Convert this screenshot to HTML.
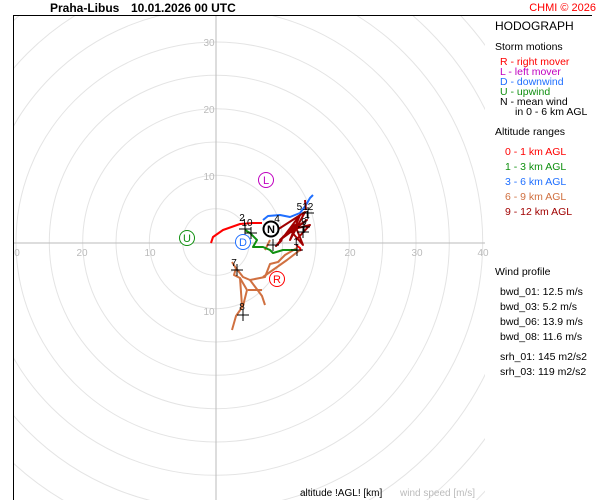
<!DOCTYPE html>
<html><head><style>
html,body{margin:0;background:#fff;overflow:hidden;width:600px;height:500px;}
svg{display:block;font-family:"Liberation Sans",sans-serif;}
</style></head><body>
<svg width="600" height="500" viewBox="0 0 600 500">
<defs><clipPath id="c"><rect x="14" y="16" width="471" height="484"/></clipPath></defs>
<g clip-path="url(#c)" fill="none" stroke="#e4e4e4" stroke-width="1">
<circle cx="216" cy="242" r="33.3"/><circle cx="216" cy="242" r="66.7"/><circle cx="216" cy="242" r="100"/>
<circle cx="216" cy="242" r="133.3"/><circle cx="216" cy="242" r="166.7"/><circle cx="216" cy="242" r="200"/>
<circle cx="216" cy="242" r="233.3"/><circle cx="216" cy="242" r="266.7"/><circle cx="216" cy="242" r="300"/>
<circle cx="216" cy="242" r="333.3"/><circle cx="216" cy="242" r="366.7"/>
</g>
<line x1="216" y1="16" x2="216" y2="500" stroke="#bbb"/>
<line x1="14" y1="243" x2="485" y2="243" stroke="#bbb"/>
<line x1="13.5" y1="15" x2="13.5" y2="500" stroke="#000"/>
<line x1="13" y1="15.5" x2="592" y2="15.5" stroke="#000"/>
<g font-size="10" fill="#bbb" text-anchor="middle">
<text x="209" y="46">30</text><text x="209" y="113">20</text><text x="209" y="180">10</text><text x="209" y="315">10</text>
<text x="17" y="256">0</text><text x="82" y="256">20</text><text x="150" y="256">10</text>
<text x="350" y="256">20</text><text x="417" y="256">30</text><text x="483" y="256">40</text>
</g>
<text x="50" y="12" font-size="12" font-weight="bold">Praha-Libus</text>
<text x="131" y="12" font-size="12" font-weight="bold">10.01.2026 00 UTC</text>
<text x="596" y="11" font-size="11" fill="#f00" text-anchor="end">CHMI © 2026</text>
<g font-size="10.5">
<text x="495" y="30" font-size="12">HODOGRAPH</text>
<text x="495" y="50">Storm motions</text>
<text x="500" y="65" fill="#f00">R - right mover</text>
<text x="500" y="75" fill="#c000c0">L - left mover</text>
<text x="500" y="85" fill="#1f6fff">D - downwind</text>
<text x="500" y="95" fill="#109010">U - upwind</text>
<text x="500" y="105">N - mean wind</text>
<text x="515" y="115">in 0 - 6 km AGL</text>
<text x="495" y="135">Altitude ranges</text>
<text x="505" y="155" fill="#f00">0 - 1 km AGL</text>
<text x="505" y="170" fill="#109010">1 - 3 km AGL</text>
<text x="505" y="185" fill="#1f6fff">3 - 6 km AGL</text>
<text x="505" y="200" fill="#d07040">6 - 9 km AGL</text>
<text x="505" y="215" fill="#a00000">9 - 12 km AGL</text>
<text x="495" y="275">Wind profile</text>
<text x="500" y="295">bwd_01: 12.5 m/s</text>
<text x="500" y="310">bwd_03: 5.2 m/s</text>
<text x="500" y="325">bwd_06: 13.9 m/s</text>
<text x="500" y="340">bwd_08: 11.6 m/s</text>
<text x="500" y="360">srh_01: 145 m2/s2</text>
<text x="500" y="375">srh_03: 119 m2/s2</text>
</g>
<text x="300" y="496" font-size="10">altitude !AGL! [km]</text>
<text x="400" y="496" font-size="10" fill="#bbb">wind speed [m/s]</text>
<g fill="none" stroke-width="2" stroke-linejoin="round">
<polyline stroke="#d07040" points="297,248 285,255 278,262 270,264 265,277 250,280 243,277 236,268 234,275 240,278 247,290 243,306 236,316 232,330"/>
<path stroke="#d07040" d="M263,277 L287,260 L300,250 M250,280 L262,296 L265,305 M240,278 L242,306 M232,262 L237,270 M270,240 L265,250 M248,290 L262,290"/>
<polyline stroke="#109010" points="245,230 250,233 257,240 253,247 263,247 270,250 273,253 283,250 297,250"/>
<polyline stroke="#1f6fff" points="263,220 268,216 280,215 290,217 300,213 306,205 310,198 313,195"/>
<polyline stroke="#f00" points="211,243 213,237 223,230 240,224 253,223 262,223"/>
<polyline stroke="#f00" points="296,245 300,248 301,251"/>
<path stroke="#a00000" d="M277,230 L305,212 L290,240 L300,215 L285,235 L307,220 L280,240 L295,225 L303,245 L290,230 L310,225 L296,240 M282,240 L276,246 L286,234 M305,200 L306,210"/>
</g>
<g stroke="#000" stroke-width="1">
<path d="M239,229h12M245,223v12 M245,233h12M251,227v12 M267,245h12M273,239v12 M291,250h12M297,244v12 M298,227h12M304,221v12 M302,213h12M308,207v12 M231,270h12M237,264v12 M237,315h12M243,309v12 M297,232h12M303,226v12"/>
</g>
<g font-size="10" text-anchor="middle">
<text x="242" y="221">2</text><text x="247" y="226">10</text><text x="277" y="222">4</text>
<text x="305" y="210">512</text><text x="307" y="218">1</text><text x="304" y="225">9</text>
<text x="296" y="245">1</text><text x="234" y="266">7</text><text x="242" y="310">8</text>
</g>
<g font-size="11" text-anchor="middle" fill="#fff" stroke-width="1">
<circle cx="266" cy="180" r="7.5" stroke="#c000c0"/><text x="266" y="184" fill="#c000c0">L</text>
<circle cx="187" cy="238" r="7.5" stroke="#109010"/><text x="187" y="242" fill="#109010">U</text>
<circle cx="243" cy="242" r="7.5" stroke="#1f6fff"/><text x="243" y="246" fill="#1f6fff">D</text>
<circle cx="277" cy="279" r="7.5" stroke="#f00"/><text x="277" y="283" fill="#f00">R</text>
<circle cx="271" cy="229" r="7.5" stroke="#000" stroke-width="2"/><text x="271" y="233" fill="#000" font-weight="bold">N</text>
</g>
</svg>
</body></html>
